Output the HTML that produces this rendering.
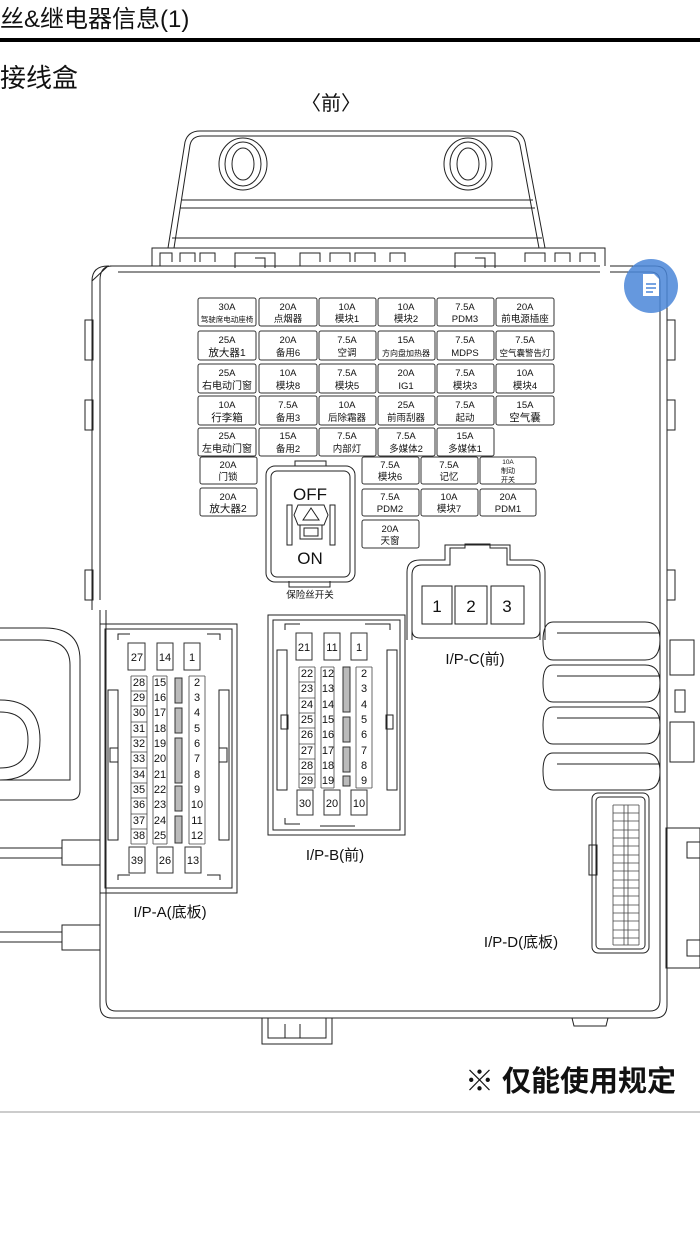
<!DOCTYPE html>
<html><head><meta charset="utf-8"><style>
html,body{margin:0;padding:0;background:#fff;}
svg{display:block;}
text{font-family:"Liberation Sans","Noto Sans CJK SC",sans-serif;fill:#111;}
.f{font-size:9.5px;text-anchor:middle;}
.p{font-size:11px;text-anchor:middle;}
</style></head><body>
<svg width="700" height="1245" viewBox="0 0 700 1245" xmlns="http://www.w3.org/2000/svg">
<text x="0" y="27" style="font-size:24px">丝&amp;继电器信息(1)</text>
<rect x="0" y="38" width="700" height="4" fill="#000"/>
<text x="0" y="87" style="font-size:26px">接线盒</text>
<text x="331" y="110" style="font-size:20px;text-anchor:middle">〈前〉</text>

<g fill="none" stroke="#222" stroke-width="1">
<path d="M168,248 L185,142 Q188,131 200,131 L510,131 Q522,131 525,142 L545,248"/>
<path d="M174,248 L190,145 Q192,136 202,136 L508,136 Q518,136 520,145 L539,248"/>
<line x1="182" y1="200" x2="533" y2="200"/><line x1="180" y1="208" x2="535" y2="208"/>
<line x1="172" y1="238" x2="542" y2="238"/>
<ellipse cx="243" cy="164" rx="24" ry="26"/><ellipse cx="243" cy="164" rx="18" ry="22"/><ellipse cx="243" cy="164" rx="11" ry="16"/>
<ellipse cx="468" cy="164" rx="24" ry="26"/><ellipse cx="468" cy="164" rx="18" ry="22"/><ellipse cx="468" cy="164" rx="11" ry="16"/>
<path d="M152,266 L152,248 L605,248 L605,266"/>
<path d="M160,266 L160,253 L172,253 L172,262 M180,262 L180,253 L195,253 L195,262 M200,262 L200,253 L215,253 L215,262 M235,268 L235,253 L275,253 L275,268 M255,258 L265,258 L265,268 M300,266 L300,253 L320,253 L320,262 M330,262 L330,253 L350,253 L350,262 M355,262 L355,253 L375,253 L375,262 M390,262 L390,253 L405,253 L405,262 M455,268 L455,253 L495,253 L495,268 M475,258 L485,258 L485,268 M525,262 L525,253 L545,253 L545,262 M555,262 L555,253 L570,253 L570,262 M580,262 L580,253 L595,253 L595,262"/>
<path d="M110,266 L600,266 M610,266 L655,266 Q667,266 667,278 L667,1005 Q667,1018 655,1018 L112,1018 Q100,1018 100,1005 L100,610"/>
<path d="M118,272 L600,272 M610,272 L650,272 Q660,272 660,282 L660,1000 Q660,1011 650,1011 L116,1011 Q106,1011 106,1000 L106,610"/>
<path d="M100,600 L100,280 Q100,266 112,266 M92,281 Q92,266 108,266 L92,281 L92,610"/>
<rect x="85" y="320" width="8" height="40"/><rect x="85" y="400" width="8" height="30"/><rect x="85" y="570" width="8" height="30"/>
<rect x="667" y="320" width="8" height="40"/><rect x="667" y="400" width="8" height="30"/><rect x="667" y="570" width="8" height="30"/>
<path d="M262,1018 L262,1044 L332,1044 L332,1018 M268,1018 L268,1038 L326,1038 L326,1018 M285,1024 L285,1038 M300,1024 L300,1038"/>
<path d="M572,1018 L574,1026 L606,1026 L608,1018"/>
<path d="M0,628 L45,628 Q80,628 80,660 L80,790 Q80,800 70,800 L0,800"/>
<path d="M0,640 L40,640 Q70,640 70,665 L70,780 L0,780"/>
<path d="M0,700 Q40,700 40,740 Q40,780 0,780"/><path d="M0,712 Q28,712 28,740 Q28,768 0,768"/>
<rect x="62" y="840" width="38" height="25"/><rect x="62" y="925" width="38" height="25"/>
<path d="M0,848 L62,848 M0,858 L62,858 M0,932 L62,932 M0,942 L62,942"/>
<path d="M553,622 L645,622 Q660,622 660,640 Q660,660 645,660 L553,660 Q543,660 543,641 Q543,622 553,622 Z"/>
<path d="M553,665 L645,665 Q660,665 660,683 Q660,702 645,702 L553,702 Q543,702 543,683 Q543,665 553,665 Z"/>
<path d="M553,707 L645,707 Q660,707 660,725 Q660,744 645,744 L553,744 Q543,744 543,725 Q543,707 553,707 Z"/>
<path d="M553,753 L645,753 Q660,753 660,772 Q660,790 645,790 L553,790 Q543,790 543,771 Q543,753 553,753 Z"/>
<path d="M557,633 L660,633 M557,676 L660,676 M557,718 L660,718 M557,764 L660,764"/>
<rect x="670" y="640" width="24" height="35"/><rect x="670" y="722" width="24" height="40"/><rect x="675" y="690" width="10" height="22"/>
<rect x="666" y="828" width="34" height="140"/><rect x="687" y="842" width="13" height="16"/><rect x="687" y="940" width="13" height="16"/>
<rect x="266" y="466" width="89" height="116" rx="9"/><rect x="271" y="471" width="79" height="106" rx="6"/>
<path d="M295,466 L295,461 L326,461 L326,466 M289,581 L289,587 L330,587 L330,581"/>
<rect x="287" y="505" width="5" height="40"/><rect x="330" y="505" width="5" height="40"/>
<path d="M298,505 L324,505 L328,515 L324,525 L298,525 L294,515 Z"/><path d="M303,520 L311,508 L319,520 Z"/>
<rect x="300" y="525" width="22" height="14"/><rect x="304" y="528" width="14" height="8"/>
<path d="M412,640 L412,575 Q412,565 422,565 L450,565 L450,548 L465,548 L465,544 L490,544 L490,548 L507,548 L507,565 L530,565 Q540,565 540,575 L540,640"/>
<path d="M407,640 L407,572 Q407,560 420,560 L445,560 L445,545 L510,545 L510,560 L532,560 Q545,560 545,572 L545,640"/>
<path d="M412,630 Q412,638 420,638 L532,638 Q540,638 540,630"/>
<rect x="422" y="586" width="30" height="38"/><rect x="455" y="586" width="32" height="38"/><rect x="491" y="586" width="33" height="38"/>
<rect x="100" y="624" width="137" height="269"/><rect x="105" y="629" width="127" height="259"/>
<path d="M118,640 L118,634 L130,634 M207,634 L220,634 L220,640 M118,880 L118,875 L130,875 M207,875 L220,875 L220,880"/>
<rect x="108" y="690" width="10" height="150"/><rect x="219" y="690" width="10" height="150"/>
<rect x="110" y="748" width="8" height="14"/><rect x="219" y="748" width="8" height="14"/>
<rect x="268" y="615" width="137" height="220"/><rect x="273" y="620" width="127" height="210"/>
<path d="M285,630 L285,624 L300,624 M365,624 L390,624 L390,630 M285,818 L285,824 L300,824 M320,826 L355,826"/>
<rect x="277" y="650" width="10" height="140"/><rect x="387" y="650" width="10" height="140"/>
<rect x="281" y="715" width="7" height="14"/><rect x="386" y="715" width="7" height="14"/>
<rect x="592" y="793" width="57" height="160" rx="6"/><rect x="596" y="797" width="49" height="152" rx="4"/>
<rect x="589" y="845" width="8" height="30"/>
</g>

<g fill="#fff" stroke="#333" stroke-width="1">
<rect x="198" y="298" width="58" height="28" rx="2"/><rect x="259" y="298" width="58" height="28" rx="2"/><rect x="319" y="298" width="57" height="28" rx="2"/><rect x="378" y="298" width="57" height="28" rx="2"/><rect x="437" y="298" width="57" height="28" rx="2"/><rect x="496" y="298" width="58" height="28" rx="2"/>
<rect x="198" y="331" width="58" height="29" rx="2"/><rect x="259" y="331" width="58" height="29" rx="2"/><rect x="319" y="331" width="57" height="29" rx="2"/><rect x="378" y="331" width="57" height="29" rx="2"/><rect x="437" y="331" width="57" height="29" rx="2"/><rect x="496" y="331" width="58" height="29" rx="2"/>
<rect x="198" y="364" width="58" height="29" rx="2"/><rect x="259" y="364" width="58" height="29" rx="2"/><rect x="319" y="364" width="57" height="29" rx="2"/><rect x="378" y="364" width="57" height="29" rx="2"/><rect x="437" y="364" width="57" height="29" rx="2"/><rect x="496" y="364" width="58" height="29" rx="2"/>
<rect x="198" y="396" width="58" height="29" rx="2"/><rect x="259" y="396" width="58" height="29" rx="2"/><rect x="319" y="396" width="57" height="29" rx="2"/><rect x="378" y="396" width="57" height="29" rx="2"/><rect x="437" y="396" width="57" height="29" rx="2"/><rect x="496" y="396" width="58" height="29" rx="2"/>
<rect x="198" y="428" width="58" height="28" rx="2"/><rect x="259" y="428" width="58" height="28" rx="2"/><rect x="319" y="428" width="57" height="28" rx="2"/><rect x="378" y="428" width="57" height="28" rx="2"/><rect x="437" y="428" width="57" height="28" rx="2"/>
<rect x="200" y="457" width="57" height="27" rx="2"/><rect x="200" y="488" width="57" height="28" rx="2"/>
<rect x="362" y="457" width="57" height="27" rx="2"/><rect x="421" y="457" width="57" height="27" rx="2"/><rect x="480" y="457" width="56" height="27" rx="2"/>
<rect x="362" y="489" width="57" height="27" rx="2"/><rect x="421" y="489" width="57" height="27" rx="2"/><rect x="480" y="489" width="56" height="27" rx="2"/>
<rect x="362" y="520" width="57" height="28" rx="2"/>
</g>
<g class="f">
<text class="f" x="227" y="310">30A</text><text class="f" x="227" y="322" style="font-size:7.5px">驾驶席电动座椅</text>
<text class="f" x="288" y="310">20A</text><text class="f" x="288" y="322">点烟器</text>
<text class="f" x="347" y="310">10A</text><text class="f" x="347" y="322">模块1</text>
<text class="f" x="406" y="310">10A</text><text class="f" x="406" y="322">模块2</text>
<text class="f" x="465" y="310">7.5A</text><text class="f" x="465" y="322">PDM3</text>
<text class="f" x="525" y="310">20A</text><text class="f" x="525" y="322">前电源插座</text>
<text class="f" x="227" y="343">25A</text><text class="f" x="227" y="356" style="font-size:10.5px">放大器1</text>
<text class="f" x="288" y="343">20A</text><text class="f" x="288" y="356">备用6</text>
<text class="f" x="347" y="343">7.5A</text><text class="f" x="347" y="356">空调</text>
<text class="f" x="406" y="343">15A</text><text class="f" x="406" y="356" style="font-size:8px">方向盘加热器</text>
<text class="f" x="465" y="343">7.5A</text><text class="f" x="465" y="356">MDPS</text>
<text class="f" x="525" y="343">7.5A</text><text class="f" x="525" y="356" style="font-size:8.5px">空气囊警告灯</text>
<text class="f" x="227" y="376">25A</text><text class="f" x="227" y="389" style="font-size:10px">右电动门窗</text>
<text class="f" x="288" y="376">10A</text><text class="f" x="288" y="389">模块8</text>
<text class="f" x="347" y="376">7.5A</text><text class="f" x="347" y="389">模块5</text>
<text class="f" x="406" y="376">20A</text><text class="f" x="406" y="389">IG1</text>
<text class="f" x="465" y="376">7.5A</text><text class="f" x="465" y="389">模块3</text>
<text class="f" x="525" y="376">10A</text><text class="f" x="525" y="389">模块4</text>
<text class="f" x="227" y="408">10A</text><text class="f" x="227" y="421" style="font-size:10.5px">行李箱</text>
<text class="f" x="288" y="408">7.5A</text><text class="f" x="288" y="421">备用3</text>
<text class="f" x="347" y="408">10A</text><text class="f" x="347" y="421">后除霜器</text>
<text class="f" x="406" y="408">25A</text><text class="f" x="406" y="421">前雨刮器</text>
<text class="f" x="465" y="408">7.5A</text><text class="f" x="465" y="421">起动</text>
<text class="f" x="525" y="408">15A</text><text class="f" x="525" y="421" style="font-size:10.5px">空气囊</text>
<text class="f" x="227" y="439">25A</text><text class="f" x="227" y="452" style="font-size:10px">左电动门窗</text>
<text class="f" x="288" y="439">15A</text><text class="f" x="288" y="452">备用2</text>
<text class="f" x="347" y="439">7.5A</text><text class="f" x="347" y="452">内部灯</text>
<text class="f" x="406" y="439">7.5A</text><text class="f" x="406" y="452">多媒体2</text>
<text class="f" x="465" y="439">15A</text><text class="f" x="465" y="452">多媒体1</text>
<text class="f" x="228" y="468">20A</text><text class="f" x="228" y="480">门锁</text>
<text class="f" x="228" y="500">20A</text><text class="f" x="228" y="512" style="font-size:10.5px">放大器2</text>
<text class="f" x="390" y="468">7.5A</text><text class="f" x="390" y="480">模块6</text>
<text class="f" x="449" y="468">7.5A</text><text class="f" x="449" y="480">记忆</text>
<text class="f" x="508" y="464" style="font-size:6.5px">10A</text><text class="f" x="508" y="473" style="font-size:7px">制动</text><text class="f" x="508" y="482" style="font-size:7px">开关</text>
<text class="f" x="390" y="500">7.5A</text><text class="f" x="390" y="512">PDM2</text>
<text class="f" x="449" y="500">10A</text><text class="f" x="449" y="512">模块7</text>
<text class="f" x="508" y="500">20A</text><text class="f" x="508" y="512">PDM1</text>
<text class="f" x="390" y="532">20A</text><text class="f" x="390" y="544">天窗</text>
</g>
<text x="310" y="500" style="font-size:17px;text-anchor:middle">OFF</text>
<text x="310" y="564" style="font-size:17px;text-anchor:middle">ON</text>
<text x="310" y="598" style="font-size:9.5px;text-anchor:middle">保险丝开关</text>
<text x="437" y="612" style="font-size:17px;text-anchor:middle">1</text><text x="471" y="612" style="font-size:17px;text-anchor:middle">2</text><text x="507" y="612" style="font-size:17px;text-anchor:middle">3</text>
<text x="475" y="664" style="font-size:15px;text-anchor:middle">I/P-C(前)</text>
<text x="170" y="917" style="font-size:15px;text-anchor:middle">I/P-A(底板)</text>
<text x="335" y="860" style="font-size:15px;text-anchor:middle">I/P-B(前)</text>
<text x="521" y="947" style="font-size:15px;text-anchor:middle">I/P-D(底板)</text>

<g fill="#fff" stroke="#333">
<rect x="128" y="643" width="17" height="27"/><rect x="157" y="643" width="16" height="27"/><rect x="184" y="643" width="16" height="27"/>
<rect x="129" y="847" width="16" height="26"/><rect x="157" y="847" width="16" height="26"/><rect x="185" y="847" width="16" height="26"/>
<rect x="175" y="678" width="7" height="25" fill="#bbb"/><rect x="175" y="708" width="7" height="25" fill="#bbb"/><rect x="175" y="738" width="7" height="45" fill="#bbb"/><rect x="175" y="786" width="7" height="25" fill="#bbb"/><rect x="175" y="816" width="7" height="27" fill="#bbb"/>
<rect x="343" y="667" width="7" height="45" fill="#bbb"/><rect x="343" y="717" width="7" height="25" fill="#bbb"/><rect x="343" y="747" width="7" height="25" fill="#bbb"/><rect x="343" y="776" width="7" height="10" fill="#bbb"/>
<rect x="296" y="633" width="16" height="27"/><rect x="324" y="633" width="16" height="27"/><rect x="351" y="633" width="16" height="27"/>
<rect x="297" y="790" width="16" height="25"/><rect x="324" y="790" width="16" height="25"/><rect x="351" y="790" width="16" height="25"/>
</g>
<g class="p">
<text class="p" x="137" y="661">27</text><text class="p" x="165" y="661">14</text><text class="p" x="192" y="661">1</text>
<text class="p" x="137" y="864">39</text><text class="p" x="165" y="864">26</text><text class="p" x="193" y="864">13</text>
<text class="p" x="139" y="686">28</text><text class="p" x="160" y="686">15</text><text class="p" x="197" y="686">2</text>
<text class="p" x="139" y="701">29</text><text class="p" x="160" y="701">16</text><text class="p" x="197" y="701">3</text>
<text class="p" x="139" y="716">30</text><text class="p" x="160" y="716">17</text><text class="p" x="197" y="716">4</text>
<text class="p" x="139" y="732">31</text><text class="p" x="160" y="732">18</text><text class="p" x="197" y="732">5</text>
<text class="p" x="139" y="747">32</text><text class="p" x="160" y="747">19</text><text class="p" x="197" y="747">6</text>
<text class="p" x="139" y="762">33</text><text class="p" x="160" y="762">20</text><text class="p" x="197" y="762">7</text>
<text class="p" x="139" y="778">34</text><text class="p" x="160" y="778">21</text><text class="p" x="197" y="778">8</text>
<text class="p" x="139" y="793">35</text><text class="p" x="160" y="793">22</text><text class="p" x="197" y="793">9</text>
<text class="p" x="139" y="808">36</text><text class="p" x="160" y="808">23</text><text class="p" x="197" y="808">10</text>
<text class="p" x="139" y="824">37</text><text class="p" x="160" y="824">24</text><text class="p" x="197" y="824">11</text>
<text class="p" x="139" y="839">38</text><text class="p" x="160" y="839">25</text><text class="p" x="197" y="839">12</text>
<text class="p" x="304" y="651">21</text><text class="p" x="332" y="651">11</text><text class="p" x="359" y="651">1</text>
<text class="p" x="305" y="807">30</text><text class="p" x="332" y="807">20</text><text class="p" x="359" y="807">10</text>
<text class="p" x="307" y="677">22</text><text class="p" x="328" y="677">12</text><text class="p" x="364" y="677">2</text>
<text class="p" x="307" y="692">23</text><text class="p" x="328" y="692">13</text><text class="p" x="364" y="692">3</text>
<text class="p" x="307" y="708">24</text><text class="p" x="328" y="708">14</text><text class="p" x="364" y="708">4</text>
<text class="p" x="307" y="723">25</text><text class="p" x="328" y="723">15</text><text class="p" x="364" y="723">5</text>
<text class="p" x="307" y="738">26</text><text class="p" x="328" y="738">16</text><text class="p" x="364" y="738">6</text>
<text class="p" x="307" y="754">27</text><text class="p" x="328" y="754">17</text><text class="p" x="364" y="754">7</text>
<text class="p" x="307" y="769">28</text><text class="p" x="328" y="769">18</text><text class="p" x="364" y="769">8</text>
<text class="p" x="307" y="784">29</text><text class="p" x="328" y="784">19</text><text class="p" x="364" y="784">9</text>
</g>
<g fill="none" stroke="#444" stroke-width="0.8">
<path d="M131,676 h16 M131,691 h16 M131,706 h16 M131,722 h16 M131,737 h16 M131,752 h16 M131,768 h16 M131,783 h16 M131,798 h16 M131,814 h16 M131,829 h16 M131,844 h16 M131,676 v168 M147,676 v168 M153,676 v168 M167,676 v168 M189,676 v168 M205,676 v168 M153,676 h14 M153,844 h14 M189,676 h16 M189,844 h16"/>
<path d="M299,667 h16 M299,682 h16 M299,698 h16 M299,713 h16 M299,728 h16 M299,744 h16 M299,759 h16 M299,774 h16 M299,788 h16 M299,667 v121 M315,667 v121 M321,667 v121 M334,667 v121 M356,667 v121 M372,667 v121 M356,667 h16 M356,788 h16 M321,667 h13 M321,788 h13"/>
<path d="M613,805 v140 M624,805 v140 M628,805 v140 M639,805 v140 M613,805 h26 M613,813 h26 M613,821 h26 M613,830 h26 M613,838 h26 M613,846 h26 M613,855 h26 M613,863 h26 M613,871 h26 M613,880 h26 M613,888 h26 M613,896 h26 M613,905 h26 M613,913 h26 M613,921 h26 M613,930 h26 M613,938 h26 M613,945 h26"/>
</g>
<text x="465" y="1091" style="font-size:29px;font-weight:bold">※ 仅能使用规定</text>
<line x1="0" y1="1112" x2="700" y2="1112" stroke="#999" stroke-width="1"/>
<circle cx="651" cy="286" r="27" fill="#4a86d8" opacity="0.85"/>
<path d="M643,274 h11 l5,5 v17 h-16 Z" fill="#fff"/>
<path d="M646,284 h10 M646,288 h10 M646,292 h7" stroke="#4a86d8" stroke-width="1.5"/>
</svg>
</body></html>
